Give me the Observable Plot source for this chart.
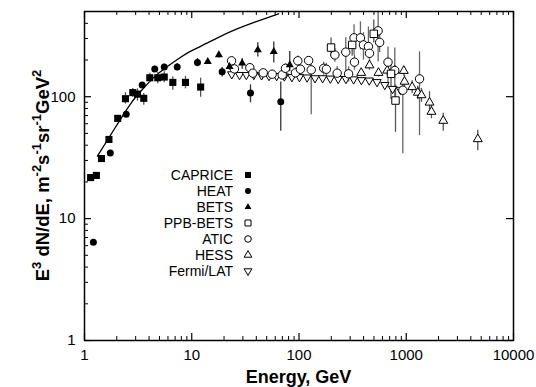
<!DOCTYPE html>
<html><head><meta charset="utf-8">
<script src="https://cdn.jsdelivr.net/npm/d3@7"></script>
<script src="https://cdn.jsdelivr.net/npm/@observablehq/plot@0.6"></script>
<style>
body{margin:0;background:#fff;}
#wrap{position:relative;width:536px;height:387px;}
</style></head><body><div id="wrap"></div>
<script>
// ---------- data (energy GeV, E^3 dN/dE) ----------
const capE  = [1.14,1.29,1.44,1.69,2.04,2.41,2.82,3.12,3.57,4.06,4.82,5.54,6.66,8.74,12.1];
const capF  = [21.7,22.6,31.1,44.6,66.4,96.3,108,105,97,143,143,145,131,131,120];
const capLo = [20.8,21.6,29.6,42.3,62.5,87,99,92,85,130,128,130,113,116,99];
const capHi = [22.6,23.6,32.6,47,70.3,108,117,116,106,156,158,160,146,147,142];

const heatE  = [1.21,1.74,2.45,3.45,4.52,5.54,7.32,11.3,19.2,35.3,67.6];
const heatF  = [6.4,34.6,71.7,125,169,175,175,191,160,107,91];
const heatLo = [6.1,33.3,68.5,119,160,165,163,176,145,89,52];
const heatHi = [6.7,35.9,75,131,178,185,187,206,174,125,132];

const betsE  = [14.1,17.9,22.5,29.5,41.3,58.2,82];
const betsF  = [194,220,176,188,242,234,182];
const betsLo = [185,208,165,168,212,189,160];
const betsHi = [203,232,188,206,277,281,235];

const ppbE  = [199,313,498,721,794];
const ppbF  = [253,266,328,154,93];
const ppbLo = [212,215,276,95,51];
const ppbHi = [303,320,426,190,125];

const aticE  = [23.5,25.0,34.8,37.1,46.4,56.2,69.7,74.8,92.7,97.5,103,123,130,170,180,216,227,273,290,326,329,374,399,444,454,547,565,676,782,929,1330];
const aticF  = [197,169,173,156,157,153,151,171,157,197,168,198,166,171,168,220,156,232,154,304,192,304,266,258,227,347,279,192,164,113,140];
const aticLo = [185,160,162,146,146,141,138,156,142,178,151,185,71,150,148,192,135,160,132,220,165,242,200,220,190,193,230,118,98,34,48];
const aticHi = [210,178,184,166,168,165,164,186,172,216,185,212,208,192,188,248,177,304,176,390,220,411,335,373,265,498,330,256,251,137,233];

const hessE  = [380,454,551,664,782,949,963,1135,1282,1387,1648,1718,2213,4645];
const hessF  = [157,181,157,164,164,163,133,120,108,103,89.6,75.3,63.5,44.9];
const hessLo = [150,165,145,150,150,148,118,106,95,90,70,66,52,36];
const hessHi = [165,197,170,178,178,178,150,135,122,117,110,85,73,53];

const fermiE = [23.6,27.9,32.3,37.9,44.8,52.5,61.9,73.0,85.9,101,119,141,166,196,232,274,323,382,452,534,631,746,882];
const fermiF = [153,151,151,151,150,148,148,147,145,145,144,142,142,141,140,140,139,137,136,132,125,116,114];

const curveE = [1.32,1.95,2.69,3.48,4.43,5.67,7.46,9.5,12.1,17.0,24.5,39.3,64.4];
const curveF = [32.5,56.4,87.5,115,144,172,204,233,259,301,350,411,479];

const xMajor = [1,10,100,1000,10000];
const yMajor = [1,10,100];
const legendNames = ["CAPRICE","HEAT","BETS","PPB-BETS","ATIC","HESS","Fermi/LAT"];

// ---------- build rows ----------
const rows = (E,F,lo,hi) => E.map((e,i)=>({E:e,F:F[i],lo:lo?lo[i]:null,hi:hi?hi[i]:null}));
const cap = rows(capE,capF,capLo,capHi);
const heat = rows(heatE,heatF,heatLo,heatHi);
const bets = rows(betsE,betsF,betsLo,betsHi);
const ppb = rows(ppbE,ppbF,ppbLo,ppbHi);
const atic = rows(aticE,aticF,aticLo,aticHi);
const hess = rows(hessE,hessF,hessLo,hessHi);
const fermi = rows(fermiE,fermiF);
const curve = rows(curveE,curveF);

const xDomain=[1,10000], yDomain=[1,500];
const xAll = d3.scaleLog().domain(xDomain).ticks();
const yAll = d3.scaleLog().domain(yDomain).ticks();
const xMinor = xAll.filter(v=>!xMajor.includes(v));
const yMinor = yAll.filter(v=>!yMajor.includes(v));

const W=536,H=387,mL=84,mR=23,mT=11,mB=47;
const fw=W-mL-mR, fh=H-mT-mB;
const font = "Liberation Sans, Arial, Helvetica, sans-serif";

const bar = (data, stroke) => Plot.ruleX(data.filter(d=>d.lo!=null), {x:"E", y1:"lo", y2:"hi", stroke, strokeWidth:1.3});
const chart = Plot.plot({
  width:W, height:H, marginLeft:mL, marginRight:mR, marginTop:mT, marginBottom:mB,
  style:{fontFamily:font, fontSize:"15px", color:"black", background:"white"},
  x:{type:"log", domain:xDomain},
  y:{type:"log", domain:yDomain},
  marks:[
    // ticks (inward)
    Plot.tickX(xMajor,{x:d=>d, insetTop:fh-7, stroke:"black", strokeWidth:1.2}),
    Plot.tickX(xMinor,{x:d=>d, insetTop:fh-4, stroke:"black"}),
    Plot.tickX(xMajor,{x:d=>d, insetBottom:fh-7, stroke:"black", strokeWidth:1.2}),
    Plot.tickX(xMinor,{x:d=>d, insetBottom:fh-4, stroke:"black"}),
    Plot.tickY(yMajor,{y:d=>d, insetRight:fw-7, stroke:"black", strokeWidth:1.2}),
    Plot.tickY(yMinor,{y:d=>d, insetRight:fw-4, stroke:"black"}),
    Plot.tickY(yMajor,{y:d=>d, insetLeft:fw-7, stroke:"black", strokeWidth:1.2}),
    Plot.axisX({ticks:xMajor, tickFormat:d=>String(d), tickSize:0, tickPadding:9, fontSize:15, label:null}),
    Plot.axisY({ticks:yMajor, tickFormat:d=>String(d), tickSize:0, tickPadding:9, fontSize:15, label:null}),
    // model curve
    Plot.line(curve,{x:"E", y:"F", stroke:"black", strokeWidth:1.3, curve:"natural"}),
    // error bars
    bar(cap,"#555"), bar(heat,"#333"), bar(bets,"#333"), bar(ppb,"#555"),
    bar(atic,"#666"), bar(hess,"#555"),
    // symbols
    Plot.dot(fermi,{x:"E", y:"F", symbol:"triangle", rotate:180, r:3.1, fill:"white", stroke:"black", strokeWidth:1}),
    Plot.dot(hess,{x:"E", y:"F", symbol:"triangle", r:3.3, fill:"white", stroke:"black", strokeWidth:1}),
    Plot.dot(atic,{x:"E", y:"F", symbol:"circle", r:4.2, fill:"white", stroke:"black", strokeWidth:1}),
    Plot.dot(ppb,{x:"E", y:"F", symbol:"square", r:4.2, fill:"white", stroke:"black", strokeWidth:1}),
    Plot.dot(bets,{x:"E", y:"F", symbol:"triangle", r:3, fill:"black", stroke:"none"}),
    Plot.dot(heat,{x:"E", y:"F", symbol:"circle", r:3.5, fill:"black", stroke:"none"}),
    Plot.dot(cap,{x:"E", y:"F", symbol:"square", r:4, fill:"black", stroke:"none"}),
    Plot.frame({stroke:"black", strokeWidth:1.5})
  ]
});
document.getElementById("wrap").appendChild(chart);

// ---------- titles & legend ----------
const svg = d3.select(chart);
svg.append("text").attr("x", mL+fw/2).attr("y", 383).attr("text-anchor","middle")
  .attr("font-family",font).attr("font-weight","bold").attr("font-size",18).attr("fill","black")
  .text("Energy, GeV");

const yt = svg.append("text").attr("transform",`translate(49,${mT+fh/2}) rotate(-90)`)
  .attr("text-anchor","middle").attr("font-family",font).attr("font-weight","bold")
  .attr("font-size",18.5).attr("fill","black");
const parts = [["E",0],["3",1],[" dN/dE, m",0],["-2",1],["s",0],["-1",1],["sr",0],["-1",1],["GeV",0],["2",1]];
let prevSup = 0;
for (const [s,sup] of parts) {
  const ts = yt.append("tspan").text(s);
  const dy = (sup - prevSup) * -8;
  if (dy) ts.attr("dy", dy);
  if (sup) ts.attr("font-size", 13);
  prevSup = sup;
}

const legSym = [
  {type:d3.symbolSquare, fill:"black", stroke:"none", size:36, rot:0},
  {type:d3.symbolCircle, fill:"black", stroke:"none", size:28, rot:0},
  {type:d3.symbolTriangle, fill:"black", stroke:"none", size:20, rot:0},
  {type:d3.symbolSquare, fill:"white", stroke:"black", size:36, rot:0},
  {type:d3.symbolCircle, fill:"white", stroke:"black", size:34, rot:0},
  {type:d3.symbolTriangle, fill:"white", stroke:"black", size:26, rot:0},
  {type:d3.symbolTriangle, fill:"white", stroke:"black", size:26, rot:180}
];
const leg = svg.append("g");
legendNames.forEach((name,i)=>{
  const y = 175 + i*16;
  leg.append("text").attr("x",233).attr("y",y).attr("dy","0.36em").attr("text-anchor","end")
    .attr("font-family",font).attr("font-size",14).attr("fill","black").text(name);
  const s = legSym[i];
  leg.append("path").attr("d", d3.symbol().type(s.type).size(s.size)())
    .attr("transform",`translate(248,${y}) rotate(${s.rot})`)
    .attr("fill",s.fill).attr("stroke",s.stroke).attr("stroke-width",1);
});
</script>
</body></html>
